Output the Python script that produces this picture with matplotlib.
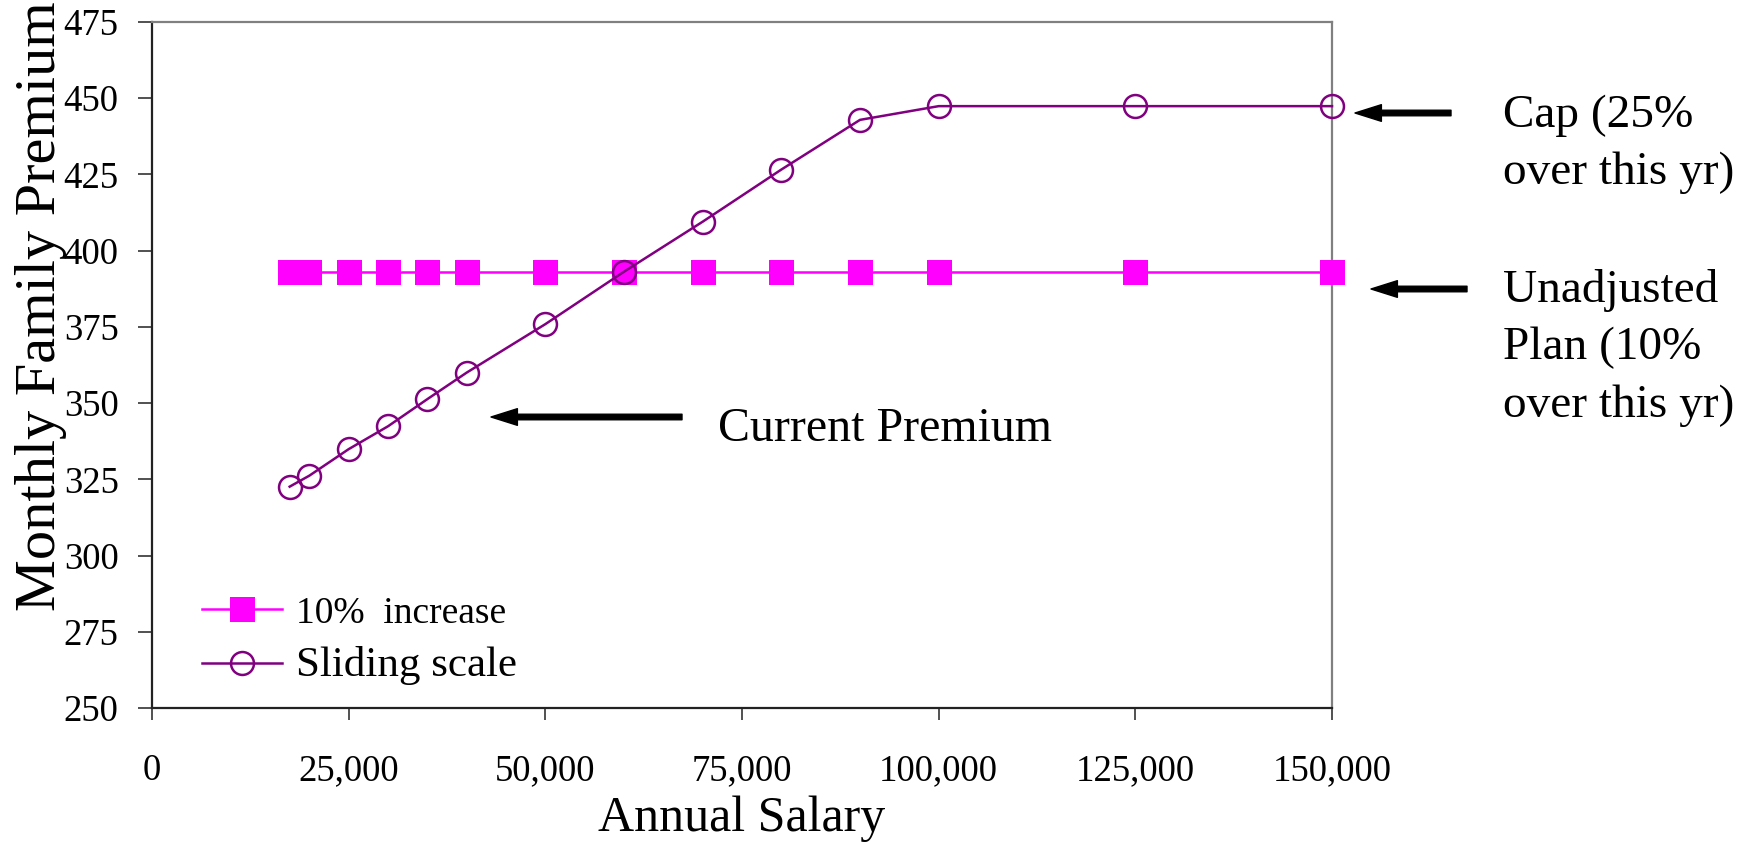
import matplotlib
matplotlib.use('Agg')
import matplotlib.pyplot as plt
from matplotlib.ticker import FuncFormatter

# 数据
salary = [17500, 20000, 25000, 30000, 35000, 40000, 50000, 60000,
          70000, 80000, 90000, 100000, 125000, 150000]
increase_10 = [393.1, 393.1, 393.1, 393.1, 393.1, 393.1, 393.1, 393.1,
               393.1, 393.1, 393.1, 393.1, 393.1, 393.1]
sliding_scale = [322.6, 326.2, 334.9, 342.4, 351.3, 360.0, 375.9, 393.1,
                 409.5, 426.6, 442.9, 447.4, 447.4, 447.4]
x_ticks = [0, 25000, 50000, 75000, 100000, 125000, 150000]
y_ticks = [250, 275, 300, 325, 350, 375, 400, 425, 450, 475]

plt.rcParams['font.family'] = ['Liberation Serif', 'DejaVu Serif']

W, H = 1747, 842
fig = plt.figure(figsize=(W / 100, H / 100), dpi=100)
ax = fig.add_axes([152 / W, 1 - 708 / H, 1180 / W, 686 / H])


def fpos(x, y):
    # 像素坐标 -> figure fraction
    return x / W, 1 - y / H


ax.plot(salary, increase_10, color='#FF00FF', lw=1.8, marker='s',
        markersize=18, markeredgewidth=0, label='10%  increase', zorder=3,
        clip_on=False)
ax.plot(salary, sliding_scale, color='#800080', lw=1.8, marker='o',
        markersize=16.5, markerfacecolor='none', markeredgewidth=1.8,
        label='Sliding scale', zorder=4, clip_on=False)

ax.set_xlim(0, 150000)
ax.set_ylim(250, 475)
ax.set_xticks(x_ticks)
ax.set_yticks(y_ticks)
ax.xaxis.set_major_formatter(FuncFormatter(lambda v, p: f'{int(v):,}'))
ax.tick_params(axis='y', direction='out', length=10, width=1.2, pad=14,
               labelsize=26.5, color='#333333')
ax.tick_params(axis='x', direction='out', length=8.6, width=1.2, pad=24,
               labelsize=26.5, color='#333333')

for s in ['top', 'right']:
    ax.spines[s].set_color('#808080')
    ax.spines[s].set_linewidth(1.6)
for s in ['left', 'bottom']:
    ax.spines[s].set_color('#222222')
    ax.spines[s].set_linewidth(1.6)

ax.set_xlabel('Annual Salary', fontsize=36, va='top')
ax.xaxis.set_label_coords(0.5, -0.128)
ax.set_ylabel('Monthly Family Premium', fontsize=42, ha='left', va='top',
              rotation_mode='anchor')
ax.yaxis.set_label_coords(-0.1161, 0.1414)

leg = ax.legend(loc='lower left', bbox_to_anchor=(0.0424, 0.033),
                frameon=False, fontsize=27, numpoints=1, handlelength=2.14,
                handletextpad=0.36, borderpad=0, borderaxespad=0,
                labelspacing=0.42)
leg.get_texts()[1].set_fontsize(31)

# 注释文字与箭头
arrow_kw = dict(width=4, headwidth=12, headlength=19, facecolor='black',
                edgecolor='black', shrink=0)
ax.annotate('', xy=fpos(491, 417), xytext=fpos(682, 417),
            xycoords='figure fraction', textcoords='figure fraction',
            arrowprops=arrow_kw)
ax.annotate('', xy=fpos(1355, 113), xytext=fpos(1451, 113),
            xycoords='figure fraction', textcoords='figure fraction',
            arrowprops=arrow_kw)
ax.annotate('', xy=fpos(1371, 289), xytext=fpos(1467, 289),
            xycoords='figure fraction', textcoords='figure fraction',
            arrowprops=arrow_kw)

fig.text(*fpos(718, 441), 'Current Premium', fontsize=34.5, va='baseline')
cap_lines = ['Cap (25%', 'over this yr)']
for i, t in enumerate(cap_lines):
    fig.text(*fpos(1503, 127 + 57 * i), t, fontsize=34, va='baseline')
plan_lines = ['Unadjusted', 'Plan (10%', 'over this yr)']
for i, t in enumerate(plan_lines):
    fig.text(*fpos(1503, 302 + 57.5 * i), t, fontsize=34, va='baseline')

fig.savefig('out.png', dpi=100)
